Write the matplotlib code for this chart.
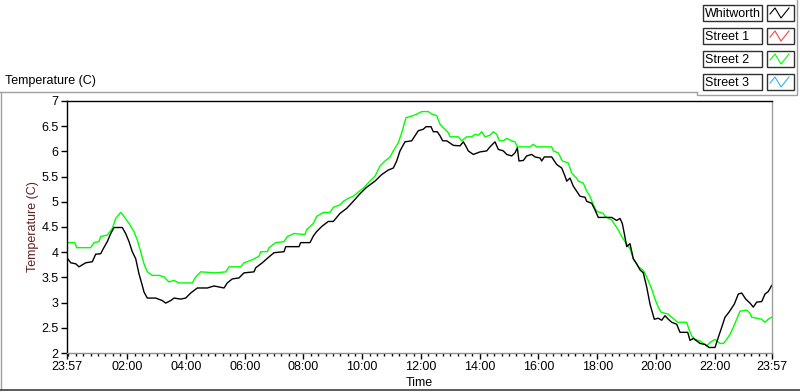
import numpy as np
import matplotlib
matplotlib.use("Agg")
import matplotlib.pyplot as plt
from matplotlib.patches import Rectangle

plt.rcParams['font.family'] = ['Liberation Sans', 'DejaVu Sans']

# hours since 23:57 and temperature (C)
whit_t = [0.0, 0.126, 0.296, 0.409, 0.637, 0.861, 0.977, 1.147, 1.236, 1.372, 1.488, 1.600,
          1.883, 1.998, 2.111, 2.223, 2.339, 2.451, 2.563, 2.621, 2.734, 3.020, 3.244, 3.360,
          3.530, 3.643, 3.871, 4.041, 4.211, 4.436, 4.776, 5.004, 5.345, 5.457, 5.627, 5.855,
          6.026, 6.366, 6.424, 6.649, 6.843, 7.047, 7.387, 7.445, 7.898, 7.956, 8.272, 8.385,
          8.500, 8.671, 8.895, 9.066, 9.294, 9.522, 9.746, 9.974, 10.203, 10.485, 10.713,
          10.938, 11.108, 11.224, 11.336, 11.506, 11.734, 11.847, 11.959, 12.129, 12.221,
          12.391, 12.470, 12.606, 12.698, 12.790, 12.926, 13.151, 13.379, 13.491, 13.573,
          13.661, 13.832, 14.060, 14.288, 14.400, 14.570, 14.683, 14.853, 14.969, 15.139,
          15.251, 15.330, 15.387, 15.534, 15.649, 15.820, 15.932, 16.102, 16.160, 16.249,
          16.500, 16.589, 16.671, 16.841, 16.953, 17.011, 17.123, 17.236, 17.351, 17.464,
          17.634, 17.692, 17.862, 17.974, 18.087, 18.543, 18.713, 18.826, 18.904, 18.972,
          19.054, 19.166, 19.278, 19.394, 19.506, 19.619, 19.734, 19.847, 19.993, 20.129,
          20.245, 20.357, 20.470, 20.585, 20.756, 20.868, 21.130, 21.209, 21.321, 21.549,
          21.719, 21.855, 22.060, 22.172, 22.288, 22.400, 22.536, 22.717, 22.853, 22.969,
          23.105, 23.251, 23.364, 23.479, 23.649, 23.762, 23.874, 23.990]
whit_v = [3.89, 3.79, 3.77, 3.71, 3.79, 3.81, 3.96, 3.97, 4.07, 4.21, 4.37, 4.49,
          4.49, 4.37, 4.21, 4.01, 3.87, 3.57, 3.34, 3.21, 3.09, 3.09, 3.04, 2.99,
          3.04, 3.09, 3.07, 3.09, 3.19, 3.29, 3.29, 3.33, 3.29, 3.39, 3.47, 3.49,
          3.59, 3.61, 3.69, 3.79, 3.89, 3.99, 4.01, 4.11, 4.11, 4.19, 4.19, 4.32,
          4.41, 4.51, 4.61, 4.61, 4.77, 4.87, 5.01, 5.16, 5.29, 5.41, 5.54,
          5.63, 5.67, 5.81, 6.01, 6.19, 6.21, 6.31, 6.41, 6.44, 6.49,
          6.49, 6.39, 6.39, 6.31, 6.21, 6.21, 6.12, 6.11, 6.19, 6.11,
          6.01, 5.94, 5.99, 6.01, 6.09, 6.19, 6.04, 6.01, 5.94, 5.91,
          5.97, 6.07, 5.81, 5.82, 5.91, 5.94, 5.89, 5.87, 5.81, 5.89,
          5.89, 5.81, 5.74, 5.67, 5.51, 5.41, 5.47, 5.31, 5.21, 5.11,
          5.09, 5.01, 4.97, 4.84, 4.69, 4.69, 4.63, 4.67, 4.57, 4.37,
          4.11, 4.17, 3.87, 3.77, 3.65, 3.59, 3.31, 2.97, 2.67, 2.69,
          2.65, 2.74, 2.67, 2.61, 2.57, 2.41, 2.41, 2.25, 2.29, 2.19,
          2.17, 2.11, 2.11, 2.31, 2.51, 2.71, 2.81, 2.97, 3.17, 3.19,
          3.07, 2.99, 2.91, 3.01, 3.02, 3.17, 3.22, 3.34]

st2_t = [0.0, 0.262, 0.330, 0.807, 0.919, 1.089, 1.147, 1.372, 1.542, 1.658, 1.828, 1.940,
         2.111, 2.281, 2.393, 2.509, 2.621, 2.734, 2.904, 3.132, 3.302, 3.472, 3.643, 3.813,
         4.266, 4.381, 4.551, 5.062, 5.403, 5.515, 5.913, 6.026, 6.308, 6.536, 6.594, 6.819,
         6.877, 7.105, 7.387, 7.500, 7.728, 8.102, 8.160, 8.385, 8.500, 8.725, 8.953, 9.066,
         9.294, 9.406, 9.576, 9.746, 9.951, 10.087, 10.315, 10.485, 10.655, 10.826, 10.996,
         11.108, 11.279, 11.394, 11.540, 11.789, 11.905, 12.075, 12.300, 12.415, 12.585,
         12.698, 12.810, 12.981, 13.038, 13.321, 13.436, 13.607, 13.777, 13.889, 14.002,
         14.117, 14.230, 14.400, 14.512, 14.628, 14.717, 14.853, 14.969, 15.139, 15.251,
         15.330, 15.762, 15.874, 15.990, 16.500, 16.555, 16.725, 16.861, 17.065, 17.181,
         17.351, 17.406, 17.577, 17.692, 17.804, 17.917, 18.032, 18.257, 18.315, 18.543,
         18.655, 18.768, 18.883, 18.996, 19.166, 19.278, 19.449, 19.619, 19.734, 19.905,
         20.017, 20.129, 20.221, 20.470, 20.585, 20.790, 21.096, 21.174, 21.266, 21.379,
         21.549, 21.660, 21.777, 21.889, 22.060, 22.230, 22.342, 22.457, 22.570, 22.683,
         22.798, 22.911, 23.139, 23.251, 23.308, 23.649, 23.762, 23.874, 23.990]
st2_v = [4.19, 4.19, 4.09, 4.09, 4.19, 4.21, 4.31, 4.34, 4.47, 4.67, 4.79, 4.71,
         4.57, 4.41, 4.24, 4.01, 3.77, 3.61, 3.54, 3.54, 3.51, 3.41, 3.44, 3.39,
         3.39, 3.51, 3.61, 3.59, 3.61, 3.71, 3.71, 3.79, 3.85, 3.92, 4.01, 4.01,
         4.09, 4.19, 4.21, 4.31, 4.37, 4.35, 4.45, 4.57, 4.71, 4.79, 4.79, 4.89,
         4.94, 5.01, 5.07, 5.11, 5.21, 5.27, 5.41, 5.51, 5.71, 5.81, 5.89,
         6.01, 6.17, 6.37, 6.67, 6.71, 6.74, 6.79, 6.79, 6.74, 6.71,
         6.54, 6.47, 6.37, 6.29, 6.29, 6.21, 6.29, 6.29, 6.34, 6.32,
         6.39, 6.29, 6.32, 6.39, 6.34, 6.21, 6.21, 6.26, 6.21, 6.19,
         6.09, 6.09, 6.14, 6.09, 6.09, 6.01, 5.97, 5.81, 5.77, 5.57,
         5.47, 5.41, 5.37, 5.21, 5.11, 4.94, 4.81, 4.77, 4.71, 4.64,
         4.54, 4.44, 4.31, 4.21, 4.07, 3.87, 3.71, 3.64, 3.51, 3.27,
         3.07, 2.91, 2.81, 2.77, 2.71, 2.61, 2.61, 2.47, 2.34, 2.27,
         2.24, 2.19, 2.14, 2.21, 2.27, 2.19, 2.19, 2.27, 2.37, 2.51,
         2.67, 2.83, 2.85, 2.79, 2.71, 2.67, 2.61, 2.67, 2.71]

series_names = ["Whitworth", "Street 1", "Street 2", "Street 3"]
series_colors = ["#000000", "#ff4040", "#00ff00", "#30b0ff"]

x_ticks = [0.0, 2.05, 4.05, 6.05, 8.05, 10.05, 12.05, 14.05, 16.05, 18.05, 20.05, 22.05, 24.0]
x_labels = ["23:57", "02:00", "04:00", "06:00", "08:00", "10:00", "12:00",
            "14:00", "16:00", "18:00", "20:00", "22:00", "23:57"]
y_ticks = [2, 2.5, 3, 3.5, 4, 4.5, 5, 5.5, 6, 6.5, 7]

fig = plt.figure(figsize=(8, 3.92), dpi=100)
W, H = 800, 392

# decorations layer in pixel units
deco = fig.add_axes([0, 0, 1, 1])
deco.set_xlim(0, W)
deco.set_ylim(H, 0)
deco.axis('off')
deco.plot([0, 697], [92, 92], color='#a0a0a0', lw=1)
deco.plot([1, 1], [92, 390], color='#a0a0a0', lw=1)
deco.plot([0, W], [390, 390], color='#404040', lw=1.2)
deco.plot([697, 697, 797, 797], [92, 95, 95, 0], color='#a0a0a0', lw=1)
deco.text(5, 81, "Temperature (C)", fontsize=9, va='center', ha='left')

row_tops = [5, 28, 51, 74]
for name, col, top in zip(series_names, series_colors, row_tops):
    deco.add_patch(Rectangle((703, top), 59, 16, fill=False, ec='#303030', lw=1))
    deco.text(705, top + 8.5, name, fontsize=9, va='center', ha='left')
    deco.add_patch(Rectangle((767, top), 27, 16, fill=False, ec='#303030', lw=1))
    deco.plot([770, 775, 781, 789], [top + 9, top + 3, top + 13, top + 3], color=col, lw=0.8)

ax = fig.add_axes([67 / W, 1 - 353 / H, (772 - 67) / W, (353 - 101) / H])
ax.plot(st2_t, st2_v, color=series_colors[2], lw=1.0)
ax.plot(whit_t, whit_v, color=series_colors[0], lw=1.0)

ax.set_xlim(0, 24)
ax.set_ylim(2, 7)
ax.set_xticks(x_ticks)
ax.set_xticklabels(x_labels)
ax.set_xticks(np.arange(0.05, 24, 0.25), minor=True)
ax.set_yticks(y_ticks)
ax.set_yticklabels(["%g" % v for v in y_ticks])
ax.tick_params(axis='both', which='major', direction='out', length=4, width=1,
               labelsize=9, pad=2)
ax.tick_params(axis='x', which='minor', direction='out', length=2.5, width=1)

ax.spines['left'].set_color('black')
ax.spines['top'].set_color('black')
ax.spines['bottom'].set_color('#909090')
ax.spines['right'].set_color('#a0a0a0')
for s in ax.spines.values():
    s.set_linewidth(1)

ax.set_xlabel("Time", fontsize=9, labelpad=3)
ax.set_ylabel("Temperature (C)", fontsize=9, color='#602020', labelpad=2)

fig.savefig("out.png", dpi=100)
